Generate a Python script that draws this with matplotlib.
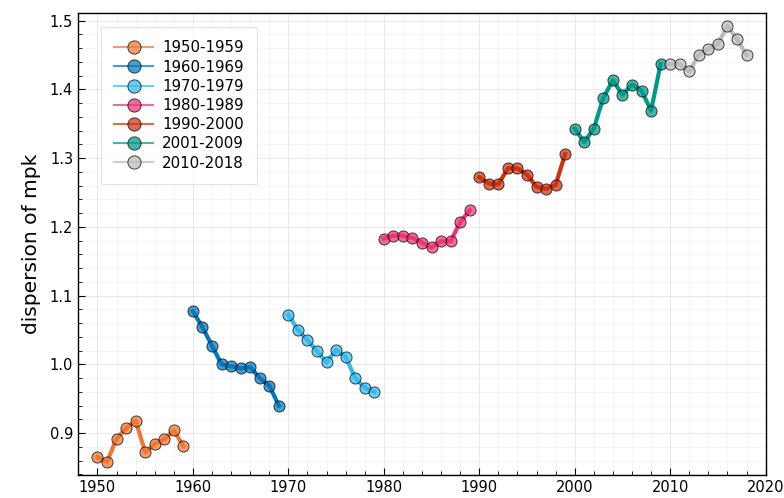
import numpy as np
import matplotlib.pyplot as plt
from matplotlib.lines import Line2D
from matplotlib.ticker import MultipleLocator

# --- Data: dispersion of mpk by decade ---
years_50 = [1950, 1951, 1952, 1953, 1954, 1955, 1956, 1957, 1958, 1959]
mpk_50 = [0.865, 0.858, 0.892, 0.907, 0.918, 0.872, 0.884, 0.891, 0.904, 0.881]

years_60 = [1960, 1961, 1962, 1963, 1964, 1965, 1966, 1967, 1968, 1969]
mpk_60 = [1.077, 1.054, 1.027, 1.000, 0.997, 0.994, 0.996, 0.980, 0.969, 0.940]

years_70 = [1970, 1971, 1972, 1973, 1974, 1975, 1976, 1977, 1978, 1979]
mpk_70 = [1.072, 1.050, 1.035, 1.019, 1.003, 1.021, 1.011, 0.980, 0.966, 0.960]

years_80 = [1980, 1981, 1982, 1983, 1984, 1985, 1986, 1987, 1988, 1989]
mpk_80 = [1.183, 1.187, 1.187, 1.184, 1.177, 1.170, 1.179, 1.179, 1.207, 1.224]

years_90 = [1990, 1991, 1992, 1993, 1994, 1995, 1996, 1997, 1998, 1999]
mpk_90 = [1.272, 1.263, 1.262, 1.285, 1.285, 1.276, 1.258, 1.255, 1.261, 1.306]

years_00 = [2000, 2001, 2002, 2003, 2004, 2005, 2006, 2007, 2008, 2009]
mpk_00 = [1.343, 1.323, 1.343, 1.388, 1.413, 1.392, 1.407, 1.398, 1.369, 1.437]

years_10 = [2010, 2011, 2012, 2013, 2014, 2015, 2016, 2017, 2018]
mpk_10 = [1.437, 1.437, 1.426, 1.450, 1.459, 1.466, 1.492, 1.473, 1.450]

labels = ["1950-1959", "1960-1969", "1970-1979", "1980-1989",
          "1990-2000", "2001-2009", "2010-2018"]
colors = ["#EE7733", "#0077BB", "#33BBEE", "#EE3377",
          "#CC3311", "#009988", "#BBBBBB"]

series = [(years_50, mpk_50), (years_60, mpk_60), (years_70, mpk_70),
          (years_80, mpk_80), (years_90, mpk_90), (years_00, mpk_00),
          (years_10, mpk_10)]

plt.rcParams['font.family'] = 'DejaVu Sans'

fig = plt.figure(figsize=(7.84, 4.98), dpi=100)
ax = fig.add_axes([78/784, 23/498, 688/784, 462/498])

for (x, y), c in zip(series, colors):
    ax.plot(x, y, color=c, lw=3, zorder=2)
    ax.plot(x, y, ls='none', marker='o', ms=8, mfc=c, mec=(0, 0, 0, 0.5),
            mew=0.7, alpha=0.72, zorder=3)

# axis limits widened by 3% like Plots.jl
all_x = np.concatenate([s[0] for s in series])
all_y = np.concatenate([s[1] for s in series])
dx = (all_x.max() - all_x.min()) * 0.03
dy = (all_y.max() - all_y.min()) * 0.03
ax.set_xlim(all_x.min() - dx, all_x.max() + dx)
ax.set_ylim(all_y.min() - dy, all_y.max() + dy)

ax.xaxis.set_major_locator(MultipleLocator(10))
ax.xaxis.set_minor_locator(MultipleLocator(2))
ax.yaxis.set_major_locator(MultipleLocator(0.1))
ax.yaxis.set_minor_locator(MultipleLocator(0.02))
ax.yaxis.set_major_formatter(plt.FuncFormatter(lambda v, p: f"{v:.1f}"))

ax.grid(True, which='major', color='black', alpha=0.1, lw=0.6)
ax.grid(True, which='minor', color='black', alpha=0.05, lw=0.5)
ax.tick_params(which='both', direction='in', top=False, right=False,
               labelsize=10.5, colors='black')
ax.tick_params(which='major', length=5, width=0.8)
ax.tick_params(which='minor', length=3, width=0.6)
for sp in ax.spines.values():
    sp.set_linewidth(1.0)

ax.set_ylabel("dispersion of mpk", fontsize=14.5, labelpad=6)

handles = [Line2D([0], [0], color=c, lw=1.5, marker='o', ms=9.5,
                  mfc=c, mec=(0, 0, 0, 0.5), mew=0.7, alpha=0.72)
           for c in colors]
leg = ax.legend(handles, labels, loc='upper left', fontsize=10.8,
                frameon=True, fancybox=False, edgecolor='#dddddd',
                handlelength=2.6, borderpad=0.9, labelspacing=0.28,
                handletextpad=0.6, borderaxespad=0,
                bbox_to_anchor=(0.033, 0.97))
leg.get_frame().set_linewidth(0.8)

fig.savefig("out.png", dpi=100)
